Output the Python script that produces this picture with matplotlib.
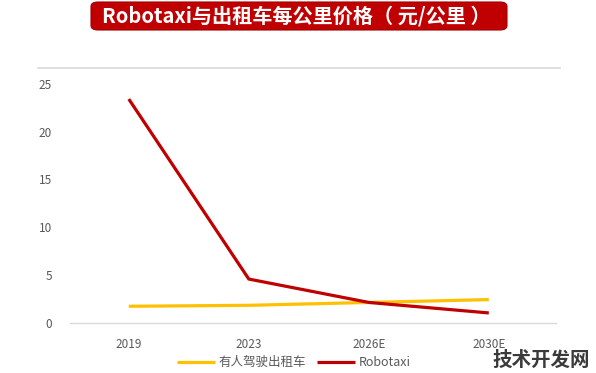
import matplotlib.pyplot as plt
from matplotlib.patches import FancyBboxPatch
from matplotlib.lines import Line2D

plt.rcParams['font.family'] = ['Noto Sans CJK SC', 'DejaVu Sans']

title = "Robotaxi与出租车每公里价格（ 元/公里 ）"
years = ["2019", "2023", "2026E", "2030E"]
taxi = [1.7, 1.8, 2.1, 2.4]
robotaxi = [23.4, 4.55, 2.1, 1.0]
series_names = ["有人驾驶出租车", "Robotaxi"]
y_ticks = [0, 5, 10, 15, 20, 25]

W, H = 596, 373
fig = plt.figure(figsize=(W / 100, H / 100), dpi=100)

# plot area in pixels
left, right, bottom, top = 70, 556, 322.5, 83.8
ax = fig.add_axes([left / W, 1 - bottom / H, (right - left) / W, (bottom - top) / H])

x = range(len(years))
ax.plot(x, taxi, color="#FFC000", lw=2.3, label=series_names[0], solid_capstyle="butt")
ax.plot(x, robotaxi, color="#C00000", lw=2.3, label=series_names[1], solid_capstyle="butt")

ax.set_xlim(-0.49, 3.56)
ax.set_ylim(0, 25)
ax.set_yticks(y_ticks)
ax.set_xticks(list(x))
ax.set_xticklabels(years)
ax.tick_params(length=0, colors="#595959", labelsize=8.5)
ax.tick_params(axis="y", pad=13)
ax.tick_params(axis="x", pad=11)
for s in ["top", "right", "left"]:
    ax.spines[s].set_visible(False)
ax.spines["bottom"].set_color("#d9d9d9")
ax.spines["bottom"].set_linewidth(1.0)

# upper separator line
fig.add_artist(Line2D([38 / W, 560 / W], [1 - 67.5 / H, 1 - 67.5 / H],
                      color="#d9d9d9", lw=1.2))

leg = ax.legend(loc="upper center", bbox_to_anchor=(0.461, -0.095), ncol=2,
                frameon=False, fontsize=9, handlelength=3.0, handletextpad=0.3,
                columnspacing=0.9, labelcolor="#595959")

# title banner
banner = FancyBboxPatch((91 / W, 1 - 30 / H), (507 - 91) / W, 28 / H,
                        boxstyle="round,pad=0,rounding_size=0.012",
                        transform=fig.transFigure, facecolor="#C00000",
                        edgecolor="#A00000", lw=0.8)
fig.add_artist(banner)
fig.text(296 / W, 1 - 16 / H, title, color="white", fontsize=14.5,
         fontweight="bold", ha="center", va="center")

# watermark
fig.text(590 / W, 1 - 360 / H, "技术开发网", color="#3a3a3a", fontsize=14,
         fontweight="bold", ha="right", va="center")

fig.savefig("out.png", dpi=100)
